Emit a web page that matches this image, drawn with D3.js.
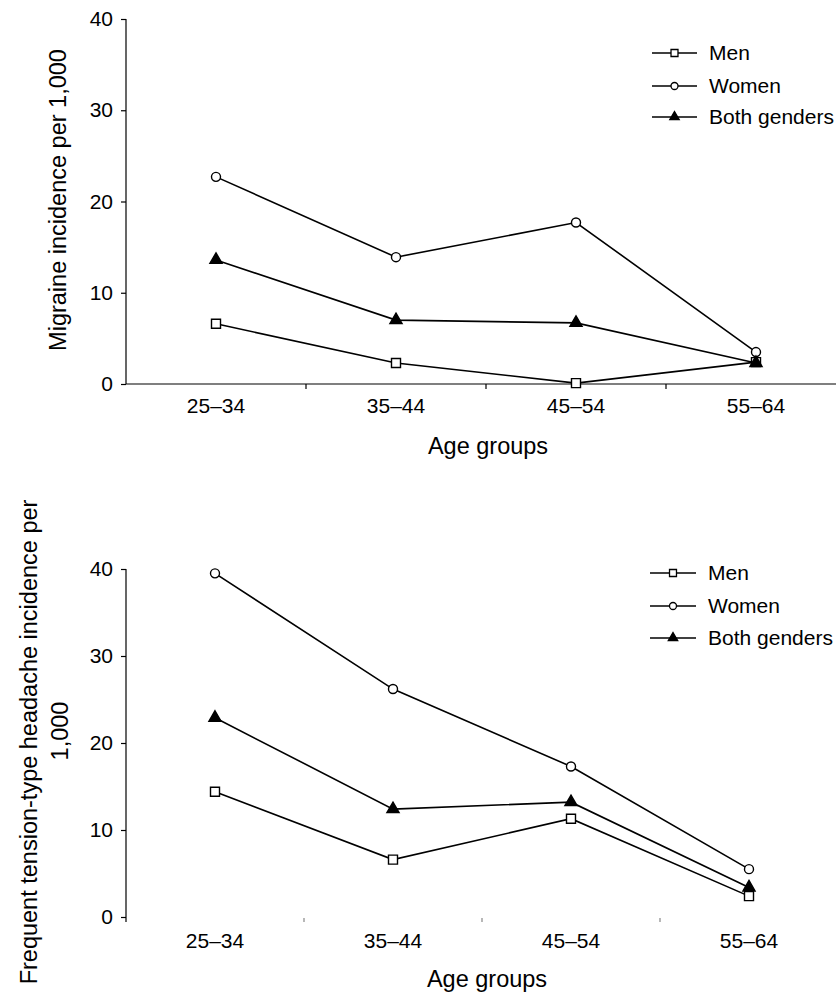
<!DOCTYPE html>
<html>
<head>
<meta charset="utf-8">
<script src="https://cdn.jsdelivr.net/npm/d3@7"></script>
<style>
  body { margin: 0; background: #fff; }
  svg { display: block; font-family: 'Liberation Sans', Arial, Helvetica, sans-serif; }
</style>
</head>
<body>
<div id="chart"></div>
<script>
// DATA
const ageGroups = ['25\u201334', '35\u201344', '45\u201354', '55\u201364']
const yTicks = [0, 10, 20, 30, 40]
const seriesNames = ['Men', 'Women', 'Both genders']

const migraineMen = [6.6, 2.3, 0.1, 2.4]
const migraineWomen = [22.7, 13.9, 17.7, 3.5]
const migraineBoth = [13.6, 7.0, 6.7, 2.3]

const tthMen = [14.4, 6.6, 11.3, 2.4]
const tthWomen = [39.5, 26.2, 17.3, 5.5]
const tthBoth = [22.9, 12.4, 13.2, 3.4]

const width = 836
const height = 992

const svg = d3.select('#chart').append('svg')
  .attr('width', width)
  .attr('height', height)

const markerShapes = {
  'Men': { type: d3.symbolSquare, size: 81, fill: '#fff' },
  'Women': { type: d3.symbolCircle, size: 64, fill: '#fff' },
  'Both genders': { type: d3.symbolTriangle, size: 64, fill: '#000' }
}

function drawPanel(panel) {
  const g = svg.append('g')

  const x = d3.scaleBand()
    .domain(ageGroups)
    .range(panel.xRange)
    .padding(0)

  const y = d3.scaleLinear()
    .domain([0, 40])
    .range(panel.yRange)

  // y axis
  const yAxis = g.append('g')
    .attr('transform', `translate(${panel.xRange[0]},0)`)
    .call(d3.axisLeft(y).tickValues(yTicks).tickSize(5).tickSizeOuter(0).tickPadding(8))
  yAxis.select('.domain').remove()
  yAxis.append('line')
    .attr('y1', y(40))
    .attr('y2', y(0) + panel.axisExtend)
    .attr('stroke', '#000')
    .attr('stroke-width', 1.2)
  yAxis.selectAll('.tick line').attr('stroke-width', 1.2)
  yAxis.selectAll('text')
    .attr('fill', '#000')
    .style('font-size', '21px')

  // x axis labels
  const xAxis = g.append('g')
    .attr('transform', `translate(0,${y(0)})`)
    .call(d3.axisBottom(x).tickSize(0).tickPadding(panel.labelPad))
  xAxis.select('.domain').remove()
  xAxis.selectAll('text')
    .attr('fill', '#000')
    .style('font-size', '21px')

  if (panel.baseLine) {
    g.append('line')
      .attr('x1', panel.xRange[0])
      .attr('x2', panel.xRange[1])
      .attr('y1', y(0))
      .attr('y2', y(0))
      .attr('stroke', '#000')
      .attr('stroke-width', 1.2)
  }

  // tick marks between groups
  g.selectAll('.xtick')
    .data(ageGroups.slice(1))
    .enter().append('line')
    .attr('class', 'xtick')
    .attr('x1', d => x(d))
    .attr('x2', d => x(d))
    .attr('y1', y(0) + panel.tickStart)
    .attr('y2', y(0) + panel.tickStart + panel.tickLen)
    .attr('stroke', panel.tickColor)
    .attr('stroke-width', 1.2)

  // series
  const plotLine = d3.line()
    .x((d, i) => x(ageGroups[i]) + x.bandwidth() / 2)
    .y(d => y(d))

  panel.series.forEach(values => {
    g.append('path')
      .datum(values)
      .attr('d', plotLine)
      .attr('fill', 'none')
      .attr('stroke', '#000')
      .attr('stroke-width', 1.6)
  })
  panel.series.forEach((values, si) => {
    const m = markerShapes[seriesNames[si]]
    g.selectAll('.m' + si)
      .data(values)
      .enter().append('path')
      .attr('transform', (d, i) => `translate(${x(ageGroups[i]) + x.bandwidth() / 2},${y(d)})`)
      .attr('d', d3.symbol().type(m.type).size(m.size))
      .attr('fill', m.fill)
      .attr('stroke', '#000')
      .attr('stroke-width', 1.4)
  })

  // legend
  const legend = g.append('g')
  seriesNames.forEach((name, i) => {
    const m = markerShapes[name]
    const ly = panel.legendY[i]
    legend.append('line')
      .attr('x1', panel.legendX[0])
      .attr('x2', panel.legendX[1])
      .attr('y1', ly)
      .attr('y2', ly)
      .attr('stroke', '#000')
      .attr('stroke-width', 1.6)
    legend.append('path')
      .attr('transform', `translate(${(panel.legendX[0] + panel.legendX[1]) / 2},${ly})`)
      .attr('d', d3.symbol().type(m.type).size(m.size * 0.6))
      .attr('fill', m.fill)
      .attr('stroke', '#000')
      .attr('stroke-width', 1.3)
    legend.append('text')
      .attr('x', panel.legendX[1] + 12)
      .attr('y', ly)
      .attr('dy', '0.35em')
      .style('font-size', '21px')
      .text(name)
  })

  // titles
  g.append('text')
    .attr('x', (panel.xRange[0] + panel.xRange[1]) / 2 + panel.xTitleShift)
    .attr('y', panel.xTitleY)
    .attr('text-anchor', 'middle')
    .style('font-size', '23.5px')
    .text('Age groups')

  panel.yTitle.forEach(t => {
    g.append('text')
      .attr('transform', `translate(${t.x},${t.y}) rotate(-90)`)
      .attr('text-anchor', 'middle')
      .style('font-size', '23.5px')
      .text(t.text)
  })
}

drawPanel({
  xRange: [126, 846],
  yRange: [384, 19],
  axisExtend: 0,
  labelPad: 14,
  baseLine: true,
  tickStart: 0,
  tickLen: 5,
  tickColor: '#000',
  series: [migraineMen, migraineWomen, migraineBoth],
  legendX: [652, 697],
  legendY: [53, 86, 117],
  xTitleY: 454,
  xTitleShift: 2,
  yTitle: [{ text: 'Migraine incidence per 1,000', x: 66, y: 200 }]
})

drawPanel({
  xRange: [126, 838],
  yRange: [917, 569],
  axisExtend: 5,
  labelPad: 16,
  baseLine: false,
  tickStart: 1,
  tickLen: 4,
  tickColor: '#888',
  series: [tthMen, tthWomen, tthBoth],
  legendX: [650, 696],
  legendY: [573, 606, 638],
  xTitleY: 987,
  xTitleShift: 5,
  yTitle: [
    { text: 'Frequent tension-type headache incidence per', x: 37, y: 742 },
    { text: '1,000', x: 68, y: 731 }
  ]
})
</script>
</body>
</html>
